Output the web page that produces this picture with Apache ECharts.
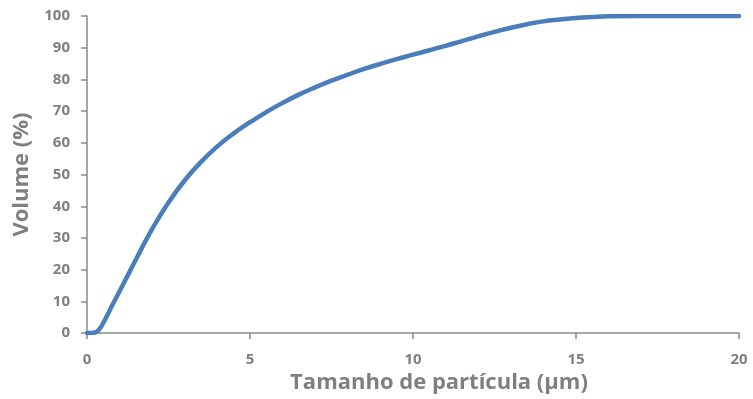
<!DOCTYPE html>
<html>
<head>
<meta charset="utf-8">
<script src="https://cdn.jsdelivr.net/npm/echarts@6/dist/echarts.min.js"></script>
<style>
  html, body { margin: 0; padding: 0; background: #fff; }
  #chart { width: 753px; height: 399px; }
</style>
</head>
<body>
<div id="chart"></div>
<script>
// Cumulative particle size distribution
const sizes = [0, 0.25, 0.375, 0.5, 0.625, 0.75, 1, 1.25, 1.5, 2, 2.5, 3, 3.5, 4, 4.5, 5, 5.5, 6, 6.5, 7,
  7.5, 8, 8.5, 9, 9.5, 10, 10.5, 11, 11.5, 12, 12.5, 13, 13.5, 14, 14.5, 15, 15.5, 16, 17, 18, 19, 20];
const volume = [0, 0.2, 1.2, 3.2, 5.7, 8.3, 13.2, 18.2, 23.2, 32.9, 41.2, 48.2, 54.0, 58.9, 63.0, 66.5,
  69.7, 72.6, 75.2, 77.5, 79.6, 81.5, 83.3, 84.9, 86.4, 87.8, 89.2, 90.6, 92.1, 93.6, 95.0, 96.3,
  97.4, 98.3, 98.9, 99.4, 99.7, 99.9, 100, 100, 100, 100];
const xTicks = [0, 5, 10, 15, 20];
const yTicks = [0, 10, 20, 30, 40, 50, 60, 70, 80, 90, 100];

const grey = '#898989';
const labelGrey = '#7f7f7f';
const font = '"Open Sans", "Liberation Sans", sans-serif';

const chart = echarts.init(document.getElementById('chart'), null, { renderer: 'canvas' });
chart.setOption({
  animation: false,
  grid: { left: 87, right: 14, top: 16, bottom: 65 },
  xAxis: {
    type: 'value',
    min: xTicks[0],
    max: xTicks[xTicks.length - 1],
    interval: 5,
    name: 'Tamanho de partícula (µm)',
    nameLocation: 'middle',
    nameGap: 30,
    nameTextStyle: { color: labelGrey, fontSize: 22, fontWeight: 'bold', fontFamily: font, padding: [0, 0, 0, 52] },
    axisLine: { show: true, lineStyle: { color: grey, width: 1.5 } },
    axisTick: { show: true, inside: false, length: 6, lineStyle: { color: grey, width: 1.5 } },
    axisLabel: { color: labelGrey, fontSize: 15, fontWeight: 'bold', fontFamily: font, margin: 19 },
    splitLine: { show: false }
  },
  yAxis: {
    type: 'value',
    min: yTicks[0],
    max: yTicks[yTicks.length - 1],
    interval: 10,
    name: 'Volume (%)',
    nameLocation: 'middle',
    nameGap: 54,
    nameTextStyle: { color: labelGrey, fontSize: 22, fontWeight: 'bold', fontFamily: font },
    axisLine: { show: true, lineStyle: { color: grey, width: 1.5 } },
    axisTick: { show: true, inside: false, length: 6, lineStyle: { color: grey, width: 1.5 } },
    axisLabel: { color: labelGrey, fontSize: 15, fontWeight: 'bold', fontFamily: font, margin: 17 },
    splitLine: { show: false }
  },
  series: [{
    type: 'line',
    data: sizes.map((s, i) => [s, volume[i]]),
    smooth: 0.5,
    showSymbol: false,
    lineStyle: { color: '#4a7ebb', width: 4.5, cap: 'round', join: 'round' },
    itemStyle: { color: '#4a7ebb' }
  }]
});
</script>
</body>
</html>
